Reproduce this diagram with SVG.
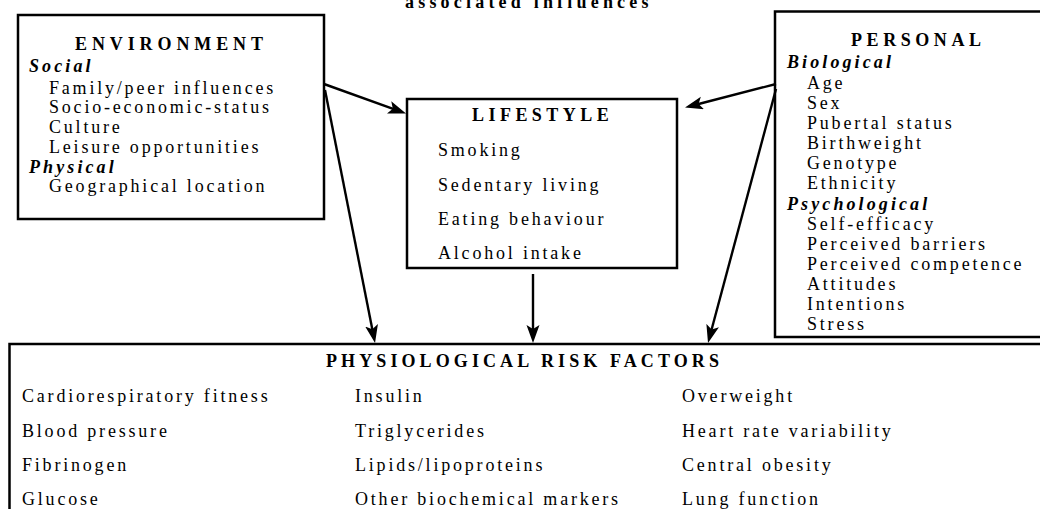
<svg xmlns="http://www.w3.org/2000/svg" width="1040" height="509" viewBox="0 0 1040 509">
<style>
text{font-family:"Liberation Serif","Times New Roman",serif;font-size:18px;fill:#000}
.it{letter-spacing:2.8px}
.hd{font-weight:bold;letter-spacing:4.5px}
.sub{font-weight:bold;font-style:italic;letter-spacing:3.1px}
.box{fill:#fff;stroke:#000;stroke-width:2.5}
.con{stroke:#000;stroke-width:2.4;fill:none;marker-end:url(#ah)}
</style>
<defs>
<marker id="ah" markerUnits="userSpaceOnUse" markerWidth="20" markerHeight="14" refX="8" refY="6.5" orient="auto">
<path d="M0,0 L18,6.5 L0,13 L4,6.5 z" fill="#000"/>
</marker>
</defs>
<rect width="1040" height="509" fill="#fff"/>
<text x="405" y="8" class="hd" style="letter-spacing:4.2px">associated influences</text>

<g id="environment">
<rect class="box" x="18" y="15" width="306" height="204"/>
<text x="75" y="50" class="hd" style="letter-spacing:4.9px">ENVIRONMENT</text>
<text x="29" y="72" class="sub">Social</text>
<text x="49" y="93.5" class="it">Family/peer influences</text>
<text x="49" y="113" class="it">Socio-economic-status</text>
<text x="49" y="132.5" class="it">Culture</text>
<text x="49" y="152.5" class="it">Leisure opportunities</text>
<text x="29" y="172.5" class="sub">Physical</text>
<text x="49" y="192" class="it">Geographical location</text>
</g>

<g id="lifestyle">
<rect class="box" x="407" y="99" width="270" height="169"/>
<text x="472" y="121" class="hd" style="letter-spacing:4.46px">LIFESTYLE</text>
<text x="438" y="156" class="it">Smoking</text>
<text x="438" y="190.5" class="it">Sedentary living</text>
<text x="438" y="224.5" class="it">Eating behaviour</text>
<text x="438" y="259" class="it">Alcohol intake</text>
</g>

<g id="personal">
<rect class="box" x="775" y="11.5" width="300" height="325.5"/>
<text x="851" y="46" class="hd" style="letter-spacing:4.57px">PERSONAL</text>
<text x="787" y="67.5" class="sub">Biological</text>
<text x="807" y="89" class="it">Age</text>
<text x="807" y="109" class="it">Sex</text>
<text x="807" y="129" class="it">Pubertal status</text>
<text x="807" y="149" class="it">Birthweight</text>
<text x="807" y="169" class="it">Genotype</text>
<text x="807" y="189" class="it">Ethnicity</text>
<text x="787" y="210" class="sub">Psychological</text>
<text x="807" y="230" class="it">Self-efficacy</text>
<text x="807" y="250" class="it">Perceived barriers</text>
<text x="807" y="270" class="it">Perceived competence</text>
<text x="807" y="290" class="it">Attitudes</text>
<text x="807" y="310" class="it">Intentions</text>
<text x="807" y="330" class="it">Stress</text>
</g>

<g id="physiological">
<rect class="box" x="9.5" y="344" width="1100" height="300"/>
<text x="326" y="367" class="hd" style="letter-spacing:4.1px">PHYSIOLOGICAL RISK FACTORS</text>
<text x="22" y="401.5" class="it">Cardiorespiratory fitness</text>
<text x="22" y="436.5" class="it">Blood pressure</text>
<text x="22" y="470.5" class="it">Fibrinogen</text>
<text x="22" y="505" class="it">Glucose</text>
<text x="355" y="401.5" class="it">Insulin</text>
<text x="355" y="436.5" class="it">Triglycerides</text>
<text x="355" y="470.5" class="it">Lipids/lipoproteins</text>
<text x="355" y="505" class="it">Other biochemical markers</text>
<text x="682" y="401.5" class="it">Overweight</text>
<text x="682" y="436.5" class="it">Heart rate variability</text>
<text x="682" y="470.5" class="it">Central obesity</text>
<text x="682" y="505" class="it">Lung function</text>
</g>

<g id="connectors">
<line class="con" x1="324" y1="84" x2="396.6" y2="110.1"/>
<line class="con" x1="325" y1="90" x2="373.1" y2="333.2"/>
<line class="con" x1="776" y1="84" x2="694.7" y2="105"/>
<line class="con" x1="776" y1="89" x2="710.6" y2="333.3"/>
<line class="con" x1="533" y1="274" x2="533" y2="333"/>
</g>
</svg>
